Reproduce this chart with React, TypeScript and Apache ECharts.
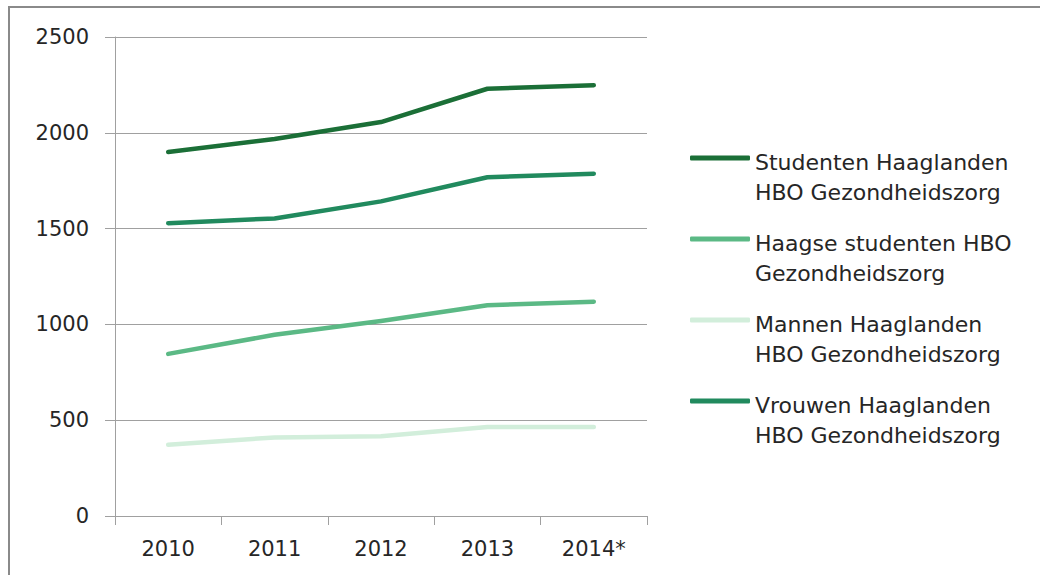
import React, { useEffect, useRef } from "react";
import * as echarts from "echarts";

const categories = ["2010", "2011", "2012", "2013", "2014*"];
const yTicks = [0, 500, 1000, 1500, 2000, 2500];

const seriesNames = [
  "Studenten Haaglanden\nHBO Gezondheidszorg",
  "Haagse studenten HBO\nGezondheidszorg",
  "Mannen Haaglanden\nHBO Gezondheidszorg",
  "Vrouwen Haaglanden\nHBO Gezondheidszorg",
];

const studentenHaaglanden = [1900, 1968, 2056, 2230, 2248];
const haagseStudenten = [846, 946, 1018, 1100, 1118];
const mannenHaaglanden = [372, 410, 416, 464, 464];
const vrouwenHaaglanden = [1528, 1553, 1642, 1768, 1786];

const seriesColors = ["#1b6f37", "#5bb985", "#d2eedb", "#218a5e"];

export default function App() {
  const ref = useRef<HTMLDivElement>(null);

  useEffect(() => {
    if (!ref.current) return;
    const chart = echarts.init(ref.current, undefined, { renderer: "svg" });
    const font = "DejaVu Sans";
    const textColor = "#262626";
    const dataSets = [studentenHaaglanden, haagseStudenten, mannenHaaglanden, vrouwenHaaglanden];
    chart.setOption({
      animation: false,
      backgroundColor: "#ffffff",
      textStyle: { fontFamily: font },
      graphic: [
        {
          type: "rect",
          shape: { x: 9, y: 7, width: 1200, height: 800 },
          style: { fill: "none", stroke: "#8a8a8a", lineWidth: 2 },
          silent: true,
        },
      ],
      grid: { left: 115, top: 37, right: 393, bottom: 59, containLabel: false },
      legend: {
        orient: "vertical",
        left: 690,
        top: 117,
        padding: 0,
        itemGap: -5,
        itemWidth: 60,
        itemHeight: 5,
        icon: "roundRect",
        data: seriesNames,
        formatter: (name: string) => {
          const lines = name.split("\n");
          return "{e| }\n" + lines.map((l) => "{t|" + l + "}").join("\n");
        },
        textStyle: {
          fontFamily: font,
          fontSize: 22,
          color: textColor,
          rich: {
            e: { fontFamily: font, fontSize: 22, lineHeight: 38 },
            t: { fontFamily: font, fontSize: 22, lineHeight: 30, color: textColor },
          },
        },
      },
      xAxis: {
        type: "category",
        data: categories,
        boundaryGap: true,
        axisLine: { show: true, lineStyle: { color: "#a0a0a0", width: 1 } },
        axisTick: { show: true, length: 9, lineStyle: { color: "#a0a0a0" } },
        axisLabel: { fontFamily: font, fontSize: 21, color: textColor, margin: 22 },
        splitLine: { show: false },
      },
      yAxis: {
        type: "value",
        min: yTicks[0],
        max: yTicks[yTicks.length - 1],
        interval: 500,
        axisLine: { show: true, lineStyle: { color: "#a0a0a0", width: 1 } },
        axisTick: { show: true, length: 10, lineStyle: { color: "#a0a0a0" } },
        axisLabel: {
          fontFamily: font,
          fontSize: 21,
          color: textColor,
          margin: 26,
          formatter: (v: number) => String(v),
        },
        splitLine: { show: true, lineStyle: { color: "#a0a0a0", width: 1 } },
      },
      series: seriesNames.map((name, i) => ({
        name,
        type: "line",
        data: dataSets[i],
        color: seriesColors[i],
        showSymbol: false,
        symbol: "none",
        lineStyle: { width: 4.5, color: seriesColors[i], cap: "round", join: "round" },
        z: i === 2 ? 1 : 2,
      })),
    });
    return () => chart.dispose();
  }, []);

  return (
    <div
      ref={ref}
      style={{ position: "fixed", left: 0, top: 0, width: 1040, height: 575 }}
    />
  );
}
